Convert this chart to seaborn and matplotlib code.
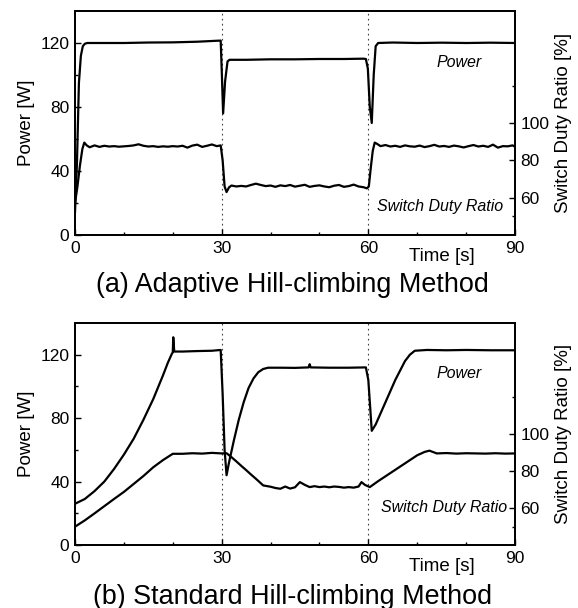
import numpy as np
import pandas as pd
import seaborn as sns
import matplotlib.pyplot as plt
from matplotlib.ticker import FixedLocator

# --- DATA ---
# (a) adaptive hill-climbing: power [W]
t_pow_a = [0, 0.4, 0.8, 1.2, 1.6, 2.0, 2.5, 5, 10, 15, 20, 25, 29.0, 29.8,
           30.0, 30.3, 30.7, 31.2, 31.6, 35, 40, 45, 50, 55, 59.0, 59.5,
           59.9, 60.3, 60.7, 61.1, 61.5, 62, 65, 70, 75, 80, 85, 90]
pow_a = [14, 45, 95, 112, 118, 119.5, 120, 120, 120, 120.3, 120.4, 120.8, 121.4, 121.5,
         104, 76, 96, 108.5, 109.5, 109.5, 109.8, 109.8, 110, 110, 110.2, 110,
         104, 80, 70, 100, 118, 120, 120.3, 120, 120.2, 120, 120.2, 120]

# (a) switch duty ratio [%]
t_duty_a = [0, 0.5, 1.0, 1.5, 1.9, 2.4, 3, 4, 5, 6, 7, 8, 9, 10, 11, 12, 13, 14, 15,
            16, 17, 18, 19, 20, 21, 22, 23, 24, 25, 26, 27, 28, 29, 29.8,
            30.2, 30.6, 31, 31.5, 32, 33, 34, 35, 36, 37, 38, 39, 40, 41, 42, 43,
            44, 45, 46, 47, 48, 49, 50, 51, 52, 53, 54, 55, 56, 57, 58, 59, 59.7,
            60.1, 60.5, 60.9, 61.3, 61.8, 62.5, 63.5, 64.5, 65.5, 66.5, 67.5, 68.5,
            69.5, 70.5, 71.5, 72.5, 73.5, 74.5, 75.5, 76.5, 77.5, 78.5, 79.5, 80.5,
            81.5, 82.5, 83.5, 84.5, 85.5, 86.5, 87.5, 88.5, 89.5, 90]
duty_a = [57, 66, 77, 86, 89.5, 88, 87, 88, 87.2, 87.8, 87.4, 87.6, 87.3, 87.5, 87.7,
          88, 88.6, 87.8, 87.4, 87.6, 87.2, 87.5, 87.3, 87.6, 87.4, 87.8, 86.8, 87.9,
          88.4, 87.2, 87.8, 88.5, 87.6, 88,
          80, 66, 63, 65.5, 66.5, 66, 66.3, 66, 66.8, 67.5, 66.8, 66.2, 66.5, 65.8,
          66.6, 66.2, 66.8, 65.9, 66.4, 66.9, 65.8, 66.3, 66.6, 66, 65.6, 66.4, 66.8,
          65.8, 66.2, 67, 66, 65.6, 65,
          66, 76, 85, 89.5, 88.8, 87.6, 88.2, 87.4, 87.8, 87.2, 88, 87.5, 87.3,
          87.9, 87.1, 87.6, 88.3, 87.4, 87.7, 87.2, 87.9, 87.5, 86.9, 87.6, 88.2,
          87.4, 87.8, 87.2, 88.4, 86.8, 87.6, 87.5, 88, 87.3]

# (b) standard hill-climbing: power [W]
t_pow_b = [0, 2, 4, 6, 8, 10, 12, 14, 16, 18, 19, 19.8, 20.0, 20.1, 20.3, 22, 25, 28,
           29.8, 30.2, 30.6, 31.0, 31.5, 32.5, 33.5, 34.5, 35.5, 36.5, 37.5, 38.5,
           39.5, 42, 45, 47.8, 48.0, 48.2, 52, 56, 59.5, 60.0, 60.7, 61.5, 62.5,
           63.5, 64.5, 65.5, 66.5, 67.5, 68.5, 69.5, 72, 76, 80, 85, 90]
pow_b = [26, 29, 34, 40, 48, 57, 67, 79, 92, 107, 115, 120.5, 121.5, 131, 122, 122, 122.3, 122.5,
         123, 95, 60, 44, 52, 66, 79, 90, 99, 105, 109, 111, 111.8, 111.8, 111.7, 112,
         114, 112, 111.8, 111.8, 112, 104, 72, 76, 83, 90, 97, 104, 110, 116, 120,
         122.5, 123, 122.8, 123, 122.8, 122.8]

# (b) switch duty ratio [%]
t_duty_b = [0, 2, 4, 6, 8, 10, 12, 14, 16, 18, 20, 22, 24, 26, 28, 30, 31, 32, 33,
            34, 35, 36, 37, 38.5, 40, 41, 42, 43, 44, 45, 46, 47, 48, 49, 50, 51, 52,
            53, 54, 55, 56, 57, 58, 58.6, 59.3, 60.3, 62, 64, 66, 68, 70, 71.5,
            72.5, 74, 76, 78, 80, 82, 84, 86, 88, 90]
duty_b = [49.9, 53.3, 57.1, 61.0, 64.9, 68.7, 73.0, 77.3, 82.0, 85.9, 89.3, 89.3, 89.6,
          89.4, 89.8, 89.5, 89.6, 87.5, 85.2, 82.8, 80.5, 78.1, 75.8, 72.2, 71.5, 70.8,
          70.4, 71.6, 70.5, 71.2, 74, 72.5, 71.3, 71.8, 71.3, 71.6, 71.2, 71.6, 71.4,
          71.0, 71.3, 71.0, 71.6, 74, 72.5, 71.3, 74.5, 78, 81.5, 85, 88.5, 90.3, 91,
          89.5, 89.7, 89.4, 89.6, 89.5, 89.4, 89.6, 89.4, 89.5]

XTICKS = [0, 30, 60, 90]
PTICKS = [0, 40, 80, 120]
DTICKS = [60, 80, 100]

sns.set_theme(style="ticks")
plt.rcParams['font.family'] = ['Liberation Sans', 'DejaVu Sans']
plt.rcParams['text.color'] = 'black'
plt.rcParams['axes.labelcolor'] = 'black'

fig = plt.figure(figsize=(5.78, 6.08), dpi=100)
axes = [fig.add_axes([75/578, 1-235/608, 440/578, 224/608]),
        fig.add_axes([75/578, 1-545/608, 440/578, 222/608])]

panels = [
    (t_pow_a, pow_a, t_duty_a, duty_a, "(a) Adaptive Hill-climbing Method", 74.6, 17.5, -0.222),
    (t_pow_b, pow_b, t_duty_b, duty_b, "(b) Standard Hill-climbing Method", 75.5, 23.75, -0.232),
]

for ax, (tp, p, td, d, title, sx, sy, ty) in zip(axes, panels):
    df_p = pd.DataFrame({'t': tp, 'P': p})
    df_d = pd.DataFrame({'t': td, 'D': d})
    ax2 = ax.twinx()
    sns.lineplot(data=df_p, x='t', y='P', ax=ax, color='black', lw=1.6, sort=False)
    sns.lineplot(data=df_d, x='t', y='D', ax=ax2, color='black', lw=1.6, sort=False)
    for xv in (30, 60):
        ax.axvline(xv, color='#444444', lw=0.8, ls=(0, (1.5, 3)), zorder=0)

    ax.set_xlim(0, 90); ax.set_ylim(0, 140)
    ax2.set_ylim(40, 160)
    ax.set_xticks(XTICKS); ax.set_yticks(PTICKS)
    ax.xaxis.set_minor_locator(FixedLocator([10, 20, 40, 50, 70, 80]))
    ax.yaxis.set_minor_locator(FixedLocator([20, 60, 100]))
    ax2.set_yticks(DTICKS)
    ax2.yaxis.set_minor_locator(FixedLocator([50, 120]))
    for a in (ax, ax2):
        a.tick_params(which='both', direction='in', labelsize=12.5, width=1.0, colors='black')
        a.tick_params(which='major', length=4, pad=4)
        a.tick_params(which='minor', length=2.5)
        for s in a.spines.values():
            s.set_linewidth(1.3); s.set_color('black'); s.set_visible(True)

    ax.set_xlabel(''); ax2.set_xlabel('')
    ax.set_ylabel('Power [W]', fontsize=13.5)
    ax.yaxis.set_label_coords(-0.09, 0.5)
    ax2.set_ylabel('Switch Duty Ratio [%]', fontsize=13.5)
    ax2.yaxis.set_label_coords(1.09, 0.5)

    ax.text(75, -0.098, 'Time [s]', transform=ax.get_xaxis_transform(),
            ha='center', va='center', fontsize=13.5)
    ax.text(0.495, ty, title, transform=ax.transAxes,
            ha='center', va='center', fontsize=19.4)
    ax.text(78.6, 108, 'Power', ha='center', va='center', fontsize=11.5, style='italic')
    ax.text(sx, sy, 'Switch Duty Ratio', ha='center', va='center', fontsize=11.5, style='italic')

fig.savefig('out.png', dpi=100)
